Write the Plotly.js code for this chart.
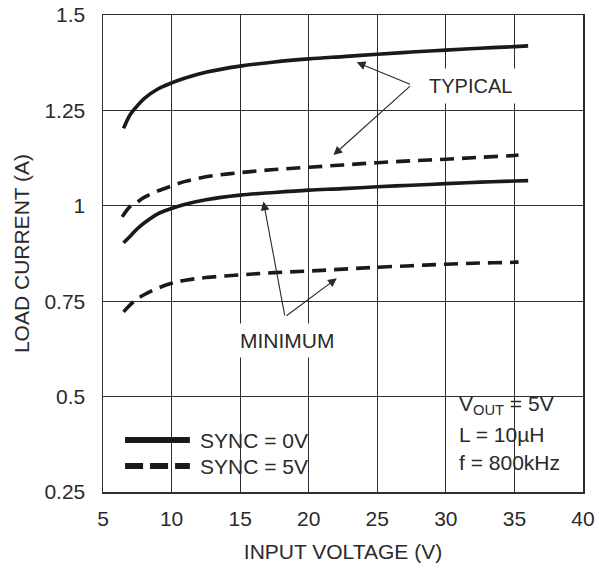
<!DOCTYPE html>
<html>
<head>
<meta charset="utf-8">
<script src="https://cdn.plot.ly/plotly-3.0.1.min.js"></script>
<style>
  html, body { margin: 0; padding: 0; background: #fff; }
  #chart { width: 599px; height: 568px; }
</style>
</head>
<body>
<div id="chart"></div>
<script>
// ---- Data ----
const vinTypSync0 = [6.5, 7, 7.5, 8, 9, 10, 11, 12.5, 15, 17.5, 20, 22.5, 25, 27.5, 30, 32.5, 35, 36];
const iTypSync0   = [1.203, 1.240, 1.262, 1.281, 1.306, 1.322, 1.335, 1.350, 1.366, 1.377, 1.385, 1.391, 1.397, 1.403, 1.408, 1.413, 1.417, 1.419];

const vinTypSync5 = [6.4, 7, 7.5, 8, 9, 10, 11, 12.5, 15, 17.5, 20, 22.5, 25, 27.5, 30, 32.5, 35, 35.3];
const iTypSync5   = [0.971, 0.999, 1.010, 1.022, 1.039, 1.052, 1.064, 1.076, 1.087, 1.095, 1.101, 1.107, 1.113, 1.118, 1.122, 1.127, 1.132, 1.133];

const vinMinSync0 = [6.5, 7, 7.5, 8, 9, 10, 11, 12.5, 15, 17.5, 20, 22.5, 25, 27.5, 30, 32.5, 35, 36];
const iMinSync0   = [0.903, 0.921, 0.940, 0.955, 0.979, 0.993, 1.004, 1.016, 1.028, 1.035, 1.041, 1.045, 1.050, 1.054, 1.058, 1.062, 1.065, 1.066];

const vinMinSync5 = [6.5, 7, 7.5, 8, 9, 10, 11, 12.5, 15, 17.5, 20, 22.5, 25, 27.5, 30, 32.5, 35, 35.3];
const iMinSync5   = [0.722, 0.741, 0.756, 0.767, 0.784, 0.797, 0.805, 0.812, 0.819, 0.825, 0.829, 0.834, 0.839, 0.843, 0.847, 0.850, 0.852, 0.853];

const xTicks = [5, 10, 15, 20, 25, 30, 35, 40];
const yTicks = [0.25, 0.5, 0.75, 1, 1.25, 1.5];
const yTickLabels = ['0.25', '0.5', '0.75', '1', '1.25', '1.5'];

const legendLabels = ['SYNC = 0V', 'SYNC = 5V'];
const conditionLines = ['V<sub>OUT</sub> = 5V', 'L = 10µH', 'f = 800kHz'];

// ---- Styling ----
const INK = '#1a1a1a';
const GRID = '#2e2e2e';
const TXT = '#2a2a2a';
const FONT = 'Liberation Sans, Arial, sans-serif';

function curve(x, y, dashed) {
  return {
    x: x, y: y, type: 'scatter', mode: 'lines',
    line: { color: INK, width: 3.6, shape: 'spline', smoothing: 1, dash: dashed ? '14px,8px' : 'solid' },
    hoverinfo: 'skip', showlegend: false
  };
}

const data = [
  curve(vinTypSync0, iTypSync0, false),
  curve(vinTypSync5, iTypSync5, true),
  curve(vinMinSync0, iMinSync0, false),
  curve(vinMinSync5, iMinSync5, true)
];

function arrow(hx, hy, tx, ty) {
  return {
    x: hx, y: hy, xref: 'x', yref: 'y',
    ax: tx, ay: ty, axref: 'x', ayref: 'y',
    text: '', showarrow: true, arrowhead: 2, arrowsize: 1.6, arrowwidth: 1.1,
    arrowcolor: TXT, standoff: 0, startstandoff: 0
  };
}

function note(x, y, text, size) {
  return { x: x, y: y, xref: 'paper', yref: 'paper', xanchor: 'left', yanchor: 'middle',
    text: text, showarrow: false, font: { family: FONT, size: size, color: TXT } };
}

const annotations = [
  // TYPICAL label and arrows
  { x: 31.8, y: 1.313, xref: 'x', yref: 'y', text: 'TYPICAL', showarrow: false,
    font: { family: FONT, size: 20, color: TXT }, bgcolor: '#fff', borderpad: 6 },
  arrow(23.5, 1.376, 27.5, 1.317),
  arrow(21.8, 1.133, 27.5, 1.317),
  // MINIMUM label and arrows
  { x: 18.45, y: 0.648, xref: 'x', yref: 'y', text: 'MINIMUM', showarrow: false,
    font: { family: FONT, size: 21, color: TXT }, bgcolor: '#fff', borderpad: 5 },
  arrow(16.7, 1.011, 18.27, 0.709),
  arrow(22.05, 0.810, 18.27, 0.709),
  // legend text
  note(0.198, 0.109, legendLabels[0], 21),
  note(0.198, 0.0545, legendLabels[1], 21),
  // conditions block
  note(0.738, 0.182, conditionLines[0], 21),
  note(0.738, 0.1195, conditionLines[1], 21),
  note(0.738, 0.0608, conditionLines[2], 21)
];

const shapes = [
  // white boxes that interrupt the grid (legend and conditions)
  { type: 'rect', xref: 'paper', yref: 'paper', x0: 0.019, x1: 0.452, y0: 0.019, y1: 0.147,
    fillcolor: '#fff', line: { width: 0 }, layer: 'between' },
  { type: 'rect', xref: 'paper', yref: 'paper', x0: 0.723, x1: 0.979, y0: 0.019, y1: 0.218,
    fillcolor: '#fff', line: { width: 0 }, layer: 'between' },
  // legend samples
  { type: 'line', xref: 'paper', yref: 'paper', x0: 0.046, x1: 0.181, y0: 0.109, y1: 0.109,
    line: { color: INK, width: 6 }, layer: 'above' },
  { type: 'line', xref: 'paper', yref: 'paper', x0: 0.046, x1: 0.181, y0: 0.0545, y1: 0.0545,
    line: { color: INK, width: 6, dash: '18px,7px' }, layer: 'above' }
];

const layout = {
  width: 599, height: 568,
  margin: { l: 103, r: 16, t: 15, b: 76, pad: 0 },
  paper_bgcolor: '#fff', plot_bgcolor: '#fff',
  font: { family: FONT, color: TXT },
  showlegend: false,
  xaxis: {
    range: [5, 40], tickmode: 'array', tickvals: xTicks, ticktext: xTicks.map(String),
    showgrid: true, gridcolor: GRID, gridwidth: 1.2, zeroline: false,
    showline: true, linecolor: GRID, linewidth: 1.5, mirror: true,
    ticks: '', ticklabelstandoff: 7,
    tickfont: { family: FONT, size: 21, color: TXT },
    title: { text: 'INPUT VOLTAGE (V)', font: { family: FONT, size: 21, color: TXT }, standoff: 15 }
  },
  yaxis: {
    range: [0.25, 1.5], tickmode: 'array', tickvals: yTicks, ticktext: yTickLabels,
    showgrid: true, gridcolor: GRID, gridwidth: 1.2, zeroline: false,
    showline: true, linecolor: GRID, linewidth: 1.5, mirror: true,
    ticks: '', ticklabelstandoff: 12,
    tickfont: { family: FONT, size: 21, color: TXT },
    title: { text: 'LOAD CURRENT (A)', font: { family: FONT, size: 21, color: TXT }, standoff: 9 }
  },
  annotations: annotations,
  shapes: shapes
};

Plotly.newPlot('chart', data, layout, { staticPlot: true, displayModeBar: false });
</script>
</body>
</html>
